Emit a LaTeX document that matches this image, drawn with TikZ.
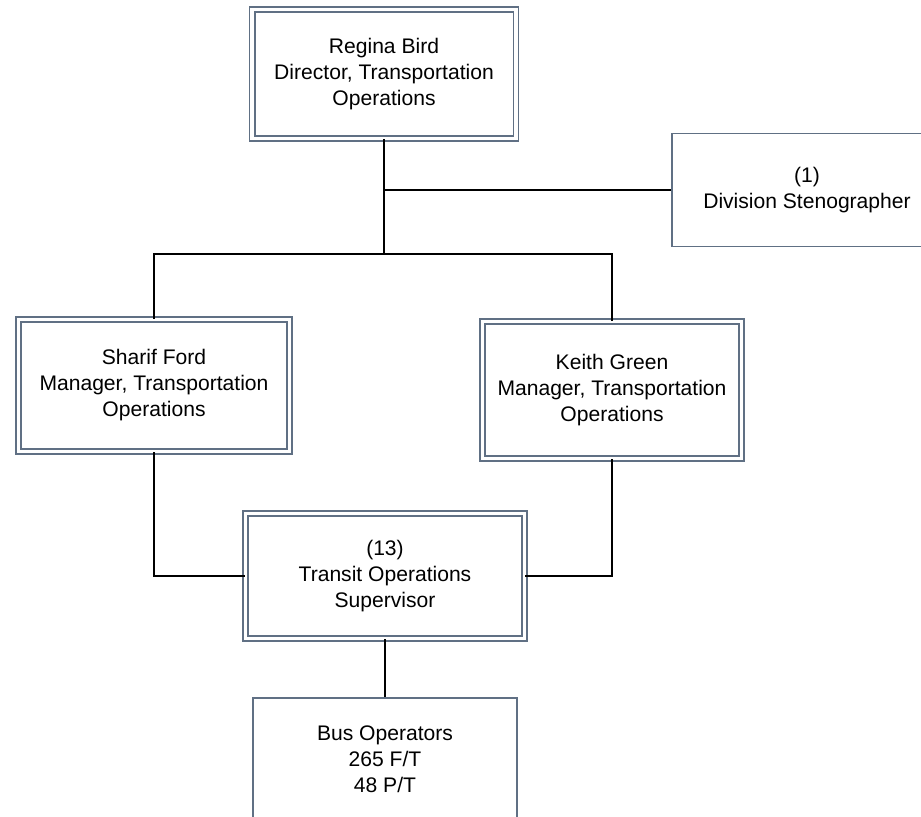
\documentclass[tikz,border=0pt]{standalone}
\usepackage{fontspec}
\setmainfont{Liberation Sans}
\usepackage{tikz}
\usetikzlibrary{positioning, calc}
\definecolor{boxslate}{RGB}{96, 112, 132}
\tikzstyle{dblbox} = [rectangle, draw=boxslate, double=white, double distance=0.075cm, line width=0.032cm, align=center, inner sep=0pt, font=\fontsize{12}{14.8}\selectfont]
\tikzstyle{plainbox} = [rectangle, draw=boxslate, line width=0.036cm, align=center, inner sep=0pt, font=\fontsize{12}{14.8}\selectfont]
\tikzstyle{link} = [draw=black, line width=0.038cm]

\begin{document}
\begin{tikzpicture}[x=0.02cm, y=-0.02cm]
    \path[use as bounding box, clip] (0,0) rectangle (921,817);
    \fill[white] (0,0) rectangle (921,817);

    % Director
    \node[dblbox, minimum width=5.28cm, minimum height=2.58cm] (bird) at (384, 74) {Regina Bird\\Director, Transportation\\Operations};

    % Stenographer
    \node[plainbox, minimum width=5.4cm, minimum height=2.26cm] (steno) at (807, 190) {(1)\\Division Stenographer};

    % Managers
    \node[dblbox, minimum width=5.42cm, minimum height=2.64cm] (ford) at (154, 385.5) {Sharif Ford\\Manager, Transportation\\Operations};
    \node[dblbox, minimum width=5.18cm, minimum height=2.74cm] (green) at (612, 390) {Keith Green\\Manager, Transportation\\Operations};

    % Supervisor
    \node[dblbox, minimum width=5.58cm, minimum height=2.5cm] (super) at (385, 576) {(13)\\Transit Operations\\Supervisor};

    % Operators
    \node[plainbox, minimum width=5.28cm, minimum height=2.44cm] (bus) at (385, 759) {Bus Operators\\265 F/T\\48 P/T};

    % Lines
    \coordinate (split) at (bird.south |- 0,254);
    \draw[link] (bird.south) -- (split);
    \draw[link] (bird.south |- steno.west) -- (steno.west);
    \draw[link] (ford.north) -- (ford.north |- split) -- (green.north |- split) -- (green.north);
    \draw[link] (ford.south) |- (super.west);
    \draw[link] (green.south) |- (super.east);
    \draw[link] (super.south) -- (bus.north);
\end{tikzpicture}
\end{document}
